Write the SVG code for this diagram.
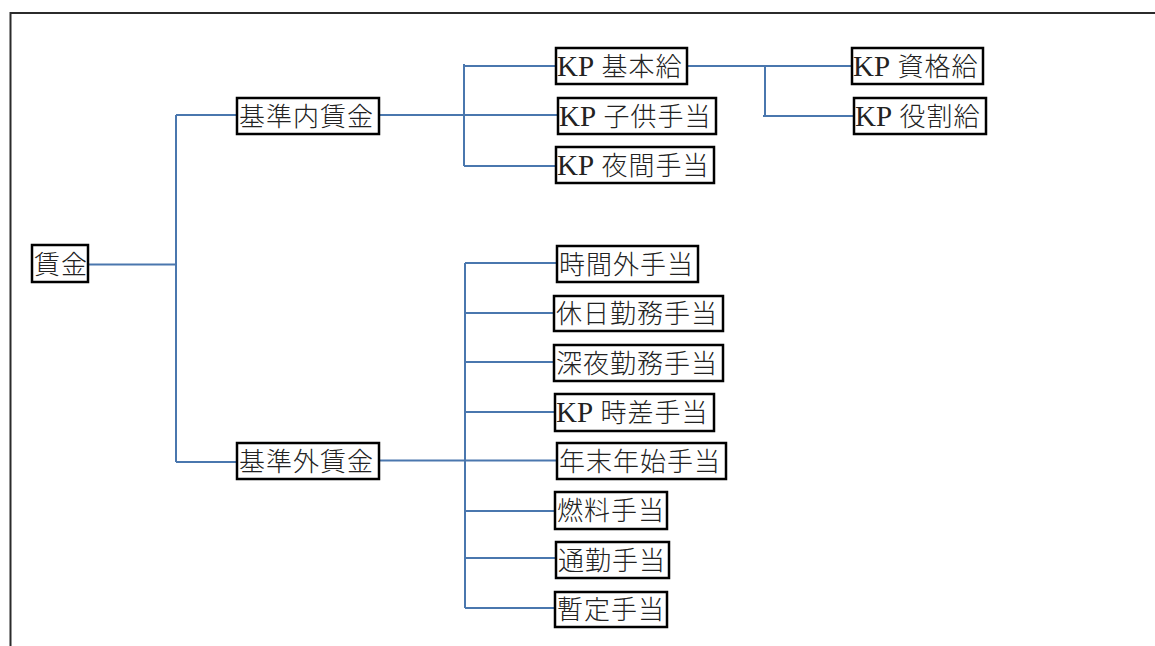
<svg xmlns="http://www.w3.org/2000/svg" width="1155" height="646" viewBox="0 0 1155 646">
<style>
.box{fill:#fff;stroke:#000;stroke-width:2.5}
.lbl{font-family:"Liberation Serif","Noto Sans CJK JP",serif;font-size:26px;font-weight:300;letter-spacing:1px;fill:#222}
.kp{font-size:29px;letter-spacing:0}
.con{fill:none;stroke:#4a77ae;stroke-width:2}
</style>
<rect width="1155" height="646" fill="#fff"/>
<path d="M10.5,646 V13 H1155" fill="none" stroke="#2b2b2b" stroke-width="2"/>
<g id="connectors">
<path class="con" d="M88,264.5 H176 M176,115 V462 M176,115 H237 M176,462 H237"/>
<path class="con" d="M379,115 H558 M464,64 V166 M464,66 H556 M464,166 H556"/>
<path class="con" d="M687,66 H852 M765,66 V116 M763,116 H854"/>
<path class="con" d="M379,460.5 H557 M465,263 V608 M465,263 H557 M465,313 H554 M465,362 H554 M465,412 H555 M465,511 H555 M465,558 H556 M465,608 H555"/>
</g>
<g id="n-chingin"><rect class="box" x="32" y="245" width="56" height="37"/><text class="lbl" x="34" y="273.5">賃金</text></g>
<g id="n-kijunnai"><rect class="box" x="237" y="98" width="142" height="36"/><text class="lbl" x="239" y="125.5">基準内賃金</text></g>
<g id="n-kijungai"><rect class="box" x="237" y="443" width="142" height="36"/><text class="lbl" x="239" y="470.5">基準外賃金</text></g>
<g id="n-kihonkyu"><rect class="box" x="556" y="48" width="131" height="36"/><text class="lbl" x="557" y="75.5"><tspan class="kp">KP</tspan> 基本給</text></g>
<g id="n-kodomo"><rect class="box" x="558" y="98" width="158" height="36"/><text class="lbl" x="559" y="125.5"><tspan class="kp">KP</tspan> 子供手当</text></g>
<g id="n-yakan"><rect class="box" x="556" y="147" width="158" height="36"/><text class="lbl" x="557" y="174.5"><tspan class="kp">KP</tspan> 夜間手当</text></g>
<g id="n-shikaku"><rect class="box" x="852" y="48" width="131" height="36"/><text class="lbl" x="853" y="75.5"><tspan class="kp">KP</tspan> 資格給</text></g>
<g id="n-yakuwari"><rect class="box" x="854" y="98" width="132" height="36"/><text class="lbl" x="855" y="125.5"><tspan class="kp">KP</tspan> 役割給</text></g>
<g id="n-jikangai"><rect class="box" x="557" y="246" width="141" height="36"/><text class="lbl" x="559" y="273.5">時間外手当</text></g>
<g id="n-kyujitsu"><rect class="box" x="554" y="296" width="169" height="35"/><text class="lbl" x="556" y="323">休日勤務手当</text></g>
<g id="n-shinya"><rect class="box" x="554" y="345" width="169" height="36"/><text class="lbl" x="556" y="372.5">深夜勤務手当</text></g>
<g id="n-jisa"><rect class="box" x="555" y="394" width="159" height="37"/><text class="lbl" x="556" y="422"><tspan class="kp">KP</tspan> 時差手当</text></g>
<g id="n-nenmatsu"><rect class="box" x="557" y="443" width="169" height="36"/><text class="lbl" x="559" y="470.5">年末年始手当</text></g>
<g id="n-nenryo"><rect class="box" x="555" y="492" width="112" height="37"/><text class="lbl" x="557" y="520">燃料手当</text></g>
<g id="n-tsukin"><rect class="box" x="556" y="542" width="113" height="36"/><text class="lbl" x="558" y="569.5">通勤手当</text></g>
<g id="n-zantei"><rect class="box" x="555" y="592" width="112" height="35"/><text class="lbl" x="557" y="619">暫定手当</text></g>
</svg>
